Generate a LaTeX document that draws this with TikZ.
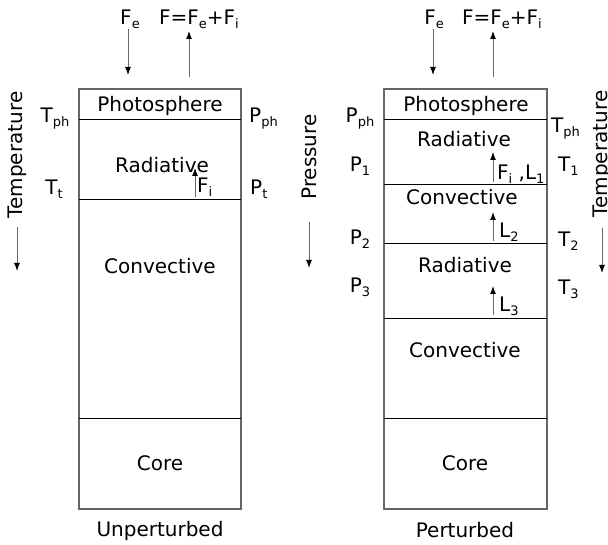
\documentclass[tikz,border=0pt]{standalone}
\usepackage{fontspec}
\setmainfont{DejaVu Sans}
\usetikzlibrary{arrows.meta}
\definecolor{outl}{HTML}{666666}
\newcommand{\lowsub}[1]{\raisebox{-4pt}{\fontsize{13}{13}\selectfont #1}}
\begin{document}
\begin{tikzpicture}[x=1pt,y=-1pt,
  lbl/.style={font=\fontsize{20}{24}\selectfont, inner sep=0pt, anchor=base},
  lblw/.style={lbl, anchor=base west},
  rot/.style={font=\fontsize{20}{24}\selectfont, inner sep=0pt, rotate=90, anchor=base},
  boxline/.style={draw=outl, line width=1.2pt},
  sepline/.style={draw=black, line width=0.9pt},
  arr/.style={draw=outl, line width=1pt, -{Latex[length=8pt,width=6pt,color=black]}}]
\useasboundingbox (0,0) rectangle (608,545);

% ---------- Left (unperturbed) ----------
\draw[boxline] (79,89) rectangle (241,509);
\draw[sepline] (79,119) -- (241,119);
\draw[sepline] (79,199) -- (241,199);
\draw[sepline] (79,418) -- (241,418);

\node[lbl] (lfe) at (130,25) {F\lowsub{e}};
\node[lbl] (lf) at (199,25) {F=F\lowsub{e}+F\lowsub{i}};
\coordinate (lfeS) at (128,29);
\coordinate (lfeE) at (128,75);
\coordinate (lfS) at (189,77);
\coordinate (lfE) at (189,31);
\draw[arr] (lfeS) -- (lfeE);
\draw[arr] (lfS) -- (lfE);

\node[lbl] (lph) at (160,112) {Photosphere};
\node[lbl] (lrad) at (162,173) {Radiative};
\node[lbl] (lconv) at (160,274) {Convective};
\node[lbl] (lcore) at (160,470) {Core};
\node[lbl] (lun) at (160,536) {Unperturbed};

\coordinate (lfiS) at (195,197);
\coordinate (lfiE) at (195,168);
\draw[arr] (lfiS) -- (lfiE);
\node[lblw] (lfi) at (197,193) {F\lowsub{i}};

\node[lbl] (ltph) at (55,123) {T\lowsub{ph}};
\node[lbl] (ltt) at (54,195) {T\lowsub{t}};
\node[lblw] (lpph) at (249,123) {P\lowsub{ph}};
\node[lblw] (lpt) at (250,195) {P\lowsub{t}};

\node[rot] (ltemp) at (23,155) {Temperature};
\coordinate (ltaS) at (17,227);
\coordinate (ltaE) at (17,271);
\draw[arr] (ltaS) -- (ltaE);

\node[rot] (rpres) at (316,157) {Pressure};
\coordinate (rpaS) at (309,222);
\coordinate (rpaE) at (309,268);
\draw[arr] (rpaS) -- (rpaE);

% ---------- Right (perturbed) ----------
\draw[boxline] (384,89) rectangle (547,509);
\draw[sepline] (384,119) -- (547,119);
\draw[sepline] (384,184) -- (547,184);
\draw[sepline] (384,243) -- (547,243);
\draw[sepline] (384,318) -- (547,318);
\draw[sepline] (384,418) -- (547,418);

\node[lbl] (rfe) at (434,25) {F\lowsub{e}};
\node[lbl] (rf) at (502,25) {F=F\lowsub{e}+F\lowsub{i}};
\coordinate (rfeS) at (433,29);
\coordinate (rfeE) at (433,75);
\coordinate (rfS) at (493,77);
\coordinate (rfE) at (493,31);
\draw[arr] (rfeS) -- (rfeE);
\draw[arr] (rfS) -- (rfE);

\node[lbl] (rph) at (466,112) {Photosphere};
\node[lbl] (rrad1) at (464,147) {Radiative};
\node[lbl] (rconv1) at (462,205) {Convective};
\node[lbl] (rrad2) at (465,273) {Radiative};
\node[lbl] (rconv2) at (465,358) {Convective};
\node[lbl] (rcore) at (465,470) {Core};
\node[lbl] (rper) at (465,537) {Perturbed};

\coordinate (rl1S) at (493,182);
\coordinate (rl1E) at (493,152);
\draw[arr] (rl1S) -- (rl1E);
\node[lblw] (rl1) at (497,180) {F\lowsub{i} ,L\lowsub{1}};
\coordinate (rl2S) at (493,241);
\coordinate (rl2E) at (493,212);
\draw[arr] (rl2S) -- (rl2E);
\node[lblw] (rl2) at (499,238) {L\lowsub{2}};
\coordinate (rl3S) at (493,315);
\coordinate (rl3E) at (493,286);
\draw[arr] (rl3S) -- (rl3E);
\node[lblw] (rl3) at (499,312) {L\lowsub{3}};

\node[lbl] (rpph) at (360,123) {P\lowsub{ph}};
\node[lbl] (rp1) at (360,172) {P\lowsub{1}};
\node[lbl] (rp2) at (360,245) {P\lowsub{2}};
\node[lbl] (rp3) at (360,293) {P\lowsub{3}};
\node[lblw] (rtph) at (551,133) {T\lowsub{ph}};
\node[lblw] (rt1) at (558,172) {T\lowsub{1}};
\node[lblw] (rt2) at (558,247) {T\lowsub{2}};
\node[lblw] (rt3) at (558,295) {T\lowsub{3}};

\node[rot] (rtemp) at (607,154) {Temperature};
\coordinate (rtaS) at (602,228);
\coordinate (rtaE) at (602,273);
\draw[arr] (rtaS) -- (rtaE);
\end{tikzpicture}
\end{document}
